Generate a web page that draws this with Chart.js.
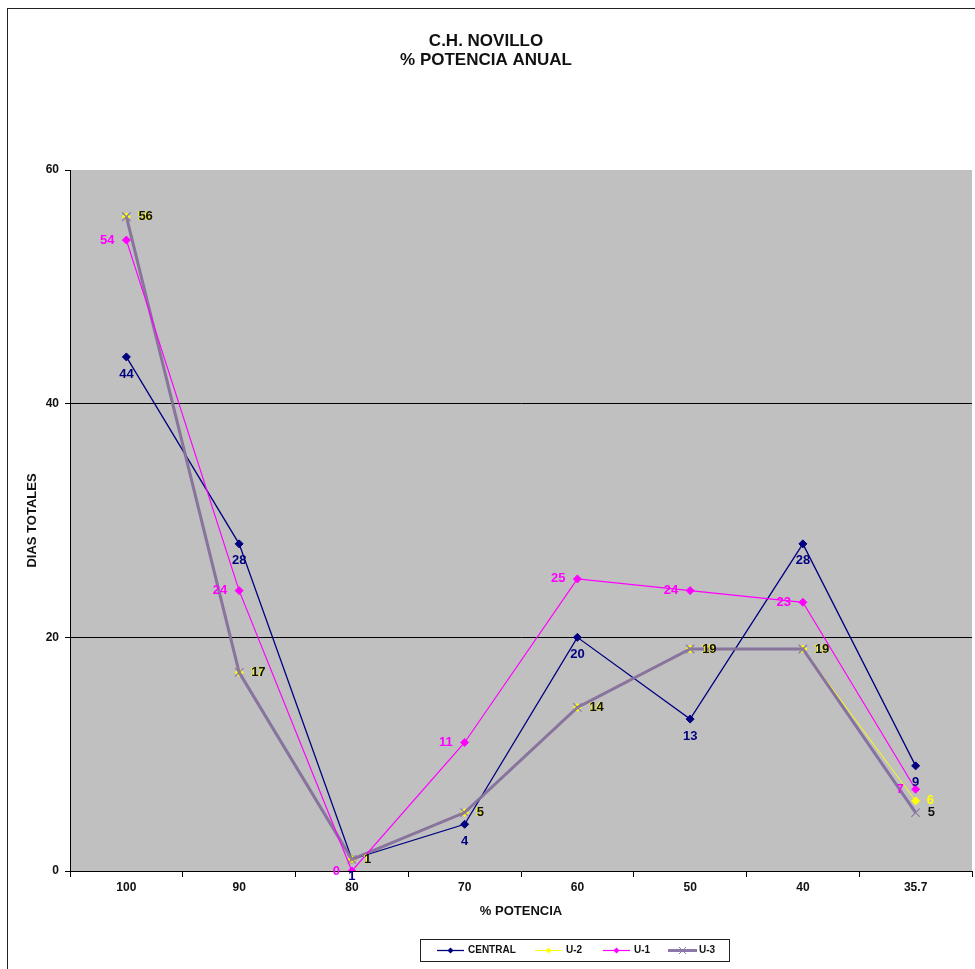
<!DOCTYPE html>
<html>
<head>
<meta charset="utf-8">
<script src="https://cdn.jsdelivr.net/npm/chart.js@4.4.1/dist/chart.umd.min.js"></script>
<style>
  html, body { margin: 0; padding: 0; background: #fff; }
  #wrap { position: relative; width: 975px; height: 969px; }
  #frame { position: absolute; left: 7px; top: 8px; right: 0; bottom: 0;
           border-left: 1px solid #222; border-top: 1px solid #222; pointer-events: none; }
  canvas { position: absolute; left: 0; top: 0; }
</style>
</head>
<body>
<div id="wrap">
  <div id="frame"></div>
  <canvas id="c" width="975" height="969"></canvas>
</div>
<script>
// ---- data ----
const categories = ['100', '90', '80', '70', '60', '50', '40', '35.7'];
const centralValues = [44, 28, 1, 4, 20, 13, 28, 9];
const u2Values = [56, 17, 1, 5, 14, 19, 19, 6];
const u1Values = [54, 24, 0, 11, 25, 24, 23, 7];
const u3Values = [56, 17, 1, 5, 14, 19, 19, 5];
const seriesNames = ['CENTRAL', 'U-2', 'U-1', 'U-3'];
const yTicks = [0, 20, 40, 60];

const FONT = "'Liberation Sans', Arial, sans-serif";

const bgPlugin = {
  id: 'plotBg',
  beforeDraw(chart) {
    const a = chart.chartArea, ctx = chart.ctx;
    ctx.save();
    ctx.fillStyle = '#C0C0C0';
    ctx.fillRect(a.left, a.top, a.right - a.left, a.bottom - a.top);
    ctx.restore();
  }
};

// data labels
const labelPlugin = {
  id: 'valueLabels',
  afterDatasetsDraw(chart) {
    const ctx = chart.ctx;
    ctx.save();
    ctx.font = "bold 13px " + FONT;
    ctx.textBaseline = 'middle';
    const cfg = {
      'CENTRAL': { dx: 0, dy: 17, align: 'center', color: '#000080' },
      'U-1': { dx: -12, dy: 0, align: 'right', color: '#FF00FF' },
      'U-2': { dx: 11, dy: 0, align: 'left', color: '#FFFF00' },
      'U-3': { dx: 12, dy: 0, align: 'left', color: '#111111' }
    };
    const drawOrder = ['CENTRAL', 'U-1', 'U-2', 'U-3'];
    drawOrder.forEach(name => {
      const di = chart.data.datasets.findIndex(d => d.label === name);
      const meta = chart.getDatasetMeta(di);
      const c = cfg[name];
      ctx.fillStyle = c.color;
      ctx.textAlign = c.align;
      meta.data.forEach((pt, i) => {
        const v = chart.data.datasets[di].data[i];
        ctx.fillText(String(v), pt.x + c.dx, pt.y + c.dy);
      });
    });
    ctx.restore();
  }
};

// custom boxed legend (Excel style)
const legendPlugin = {
  id: 'boxLegend',
  afterDraw(chart) {
    const ctx = chart.ctx;
    ctx.save();
    const bx = 420, by = 939, bw = 309, bh = 22;
    ctx.fillStyle = '#fff';
    ctx.fillRect(bx, by, bw, bh);
    ctx.strokeStyle = '#222';
    ctx.lineWidth = 1;
    ctx.strokeRect(bx + 0.5, by + 0.5, bw, bh);
    const items = [
      { x: 437, w: 27, tx: 468 },
      { x: 535, w: 27, tx: 566 },
      { x: 603, w: 27, tx: 634 },
      { x: 668, w: 29, tx: 699 }
    ];
    const cy = by + 11.5;
    ctx.font = "bold 10px " + FONT;
    ctx.textBaseline = 'middle';
    ctx.textAlign = 'left';
    seriesNames.forEach((name, k) => {
      const ds = chart.data.datasets.find(d => d.label === name);
      const it = items[k];
      ctx.strokeStyle = ds.borderColor;
      ctx.lineWidth = ds.borderWidth;
      ctx.beginPath();
      ctx.moveTo(it.x, cy);
      ctx.lineTo(it.x + it.w, cy);
      ctx.stroke();
      const mx = it.x + it.w / 2;
      if (ds.pointStyle === 'crossRot') {
        ctx.lineWidth = 1;
        ctx.strokeStyle = ds.pointBorderColor;
        const r = 3.5;
        ctx.beginPath();
        ctx.moveTo(mx - r, cy - r); ctx.lineTo(mx + r, cy + r);
        ctx.moveTo(mx + r, cy - r); ctx.lineTo(mx - r, cy + r);
        ctx.stroke();
      } else {
        ctx.fillStyle = ds.pointBackgroundColor;
        const r = 3;
        ctx.beginPath();
        ctx.moveTo(mx, cy - r); ctx.lineTo(mx + r, cy);
        ctx.lineTo(mx, cy + r); ctx.lineTo(mx - r, cy);
        ctx.closePath();
        ctx.fill();
      }
      ctx.fillStyle = '#111';
      ctx.fillText(name, it.tx, cy);
    });
    ctx.restore();
  }
};

new Chart(document.getElementById('c'), {
  type: 'line',
  data: {
    labels: categories,
    datasets: [
      { label: 'CENTRAL', data: centralValues, borderColor: '#000080', borderWidth: 1.3,
        pointStyle: 'rectRot', pointRadius: 4, pointBackgroundColor: '#000080',
        pointBorderColor: '#000080', pointBorderWidth: 1, order: 3, tension: 0 },
      { label: 'U-2', data: u2Values, borderColor: '#FFFF00', borderWidth: 1,
        pointStyle: 'rectRot', pointRadius: 4, pointBackgroundColor: '#FFFF00',
        pointBorderColor: '#FFFF00', pointBorderWidth: 1, order: 2, tension: 0 },
      { label: 'U-1', data: u1Values, borderColor: '#FF00FF', borderWidth: 1.2,
        pointStyle: 'rectRot', pointRadius: 4, pointBackgroundColor: '#FF00FF',
        pointBorderColor: '#FF00FF', pointBorderWidth: 1, order: 0, tension: 0 },
      { label: 'U-3', data: u3Values, borderColor: 'rgba(128,104,160,0.9)', borderWidth: 3,
        pointStyle: 'crossRot', pointRadius: 6, pointBackgroundColor: '#8A7AA8',
        pointBorderColor: '#8A7AA8', pointBorderWidth: 1.2, order: 1, tension: 0 }
    ]
  },
  options: {
    responsive: false,
    animation: false,
    events: [],
    layout: { autoPadding: false, padding: { left: 0, right: 3, top: 0, bottom: 0 } },
    plugins: {
      legend: { display: false },
      tooltip: { enabled: false },
      title: {
        display: true,
        text: ['C.H. NOVILLO', '% POTENCIA ANUAL'],
        color: '#111',
        font: { family: FONT, size: 17, weight: 'bold', lineHeight: '19px' },
        padding: { top: 32, bottom: 100 }
      }
    },
    scales: {
      x: {
        type: 'category',
        offset: true,
        grid: { display: true, offset: true, drawOnChartArea: false, drawTicks: true,
                tickLength: 6, color: '#000', tickColor: '#000' },
        border: { display: true, color: '#000', width: 1 },
        ticks: { color: '#111', font: { family: FONT, size: 12, weight: 'bold' }, padding: 3,
                 maxRotation: 0, autoSkip: false },
        title: { display: true, text: '% POTENCIA', color: '#111',
                 font: { family: FONT, size: 13, weight: 'bold' }, padding: { top: 0, bottom: 50 } },
        afterFit(scale) { scale.height = 98; }
      },
      y: {
        min: 0, max: 60,
        afterBuildTicks(scale) { scale.ticks = yTicks.map(v => ({ value: v })); },
        grid: {
          drawTicks: true, tickLength: 5,
          color: ctx => (ctx.tick && (ctx.tick.value === 20 || ctx.tick.value === 40)) ? '#000' : 'rgba(0,0,0,0)',
          tickColor: '#000', lineWidth: 1
        },
        border: { display: true, color: '#000', width: 1 },
        ticks: { color: '#111', font: { family: FONT, size: 12, weight: 'bold' }, padding: 6 },
        title: { display: true, text: 'DIAS TOTALES', color: '#111',
                 font: { family: FONT, size: 13, weight: 'bold' }, padding: { top: 25, bottom: 0 } },
        afterFit(scale) { scale.width = 70; }
      }
    }
  },
  plugins: [bgPlugin, labelPlugin, legendPlugin]
});
</script>
</body>
</html>
